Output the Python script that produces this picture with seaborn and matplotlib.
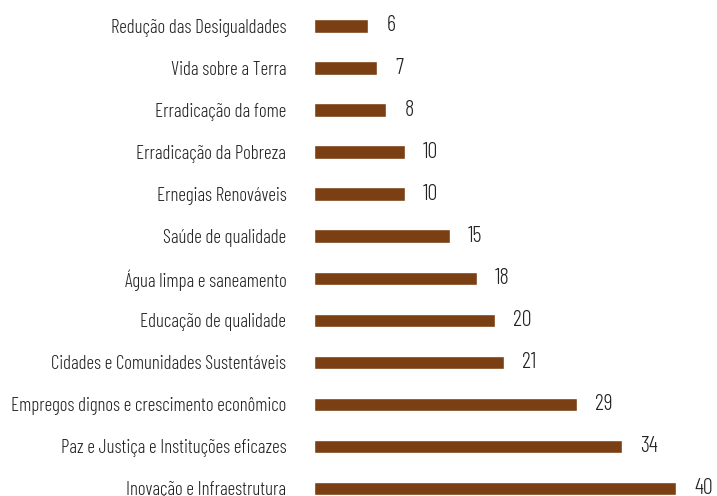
import matplotlib
matplotlib.use('Agg')
import matplotlib.pyplot as plt
import seaborn as sns
import pandas as pd

categorias = ['Redução das Desigualdades', 'Vida sobre a Terra', 'Erradicação da fome',
              'Erradicação da Pobreza', 'Ernegias Renováveis', 'Saúde de qualidade',
              'Água limpa e saneamento', 'Educação de qualidade',
              'Cidades e Comunidades Sustentáveis',
              'Empregos dignos e crescimento econômico',
              'Paz e Justiça e Instituções eficazes', 'Inovação e Infraestrutura']
valores = [6, 7, 8, 10, 10, 15, 18, 20, 21, 29, 34, 40]

sns.set_style('white')
plt.rcParams['font.family'] = ['Barlow Condensed', 'DejaVu Sans']
plt.rcParams['font.weight'] = 300

data = pd.DataFrame({'ods': categorias, 'n': valores})

fig = plt.figure(figsize=(7.17, 4.96), dpi=100)
ax = fig.add_axes([0.438, 0, 0.505, 1])
sns.barplot(data=data, y='ods', x='n', orient='h', color='#7a3f12',
            saturation=1, width=0.31, ax=ax)

for i, v in enumerate(valores):
    ax.annotate(str(v), (v, i), xytext=(13, 0), textcoords='offset points',
                va='center', ha='left', fontsize=16, color='#222222')

ax.set_xlim(0, 40)
ax.set_ylim(11.19, -0.619)
ax.set_xlabel('')
ax.set_ylabel('')
ax.set_xticks([])
ax.tick_params(axis='y', length=0, pad=20, labelsize=13.7, labelcolor='#222222')
sns.despine(ax=ax, left=True, bottom=True)

fig.savefig('out.png', dpi=100)
